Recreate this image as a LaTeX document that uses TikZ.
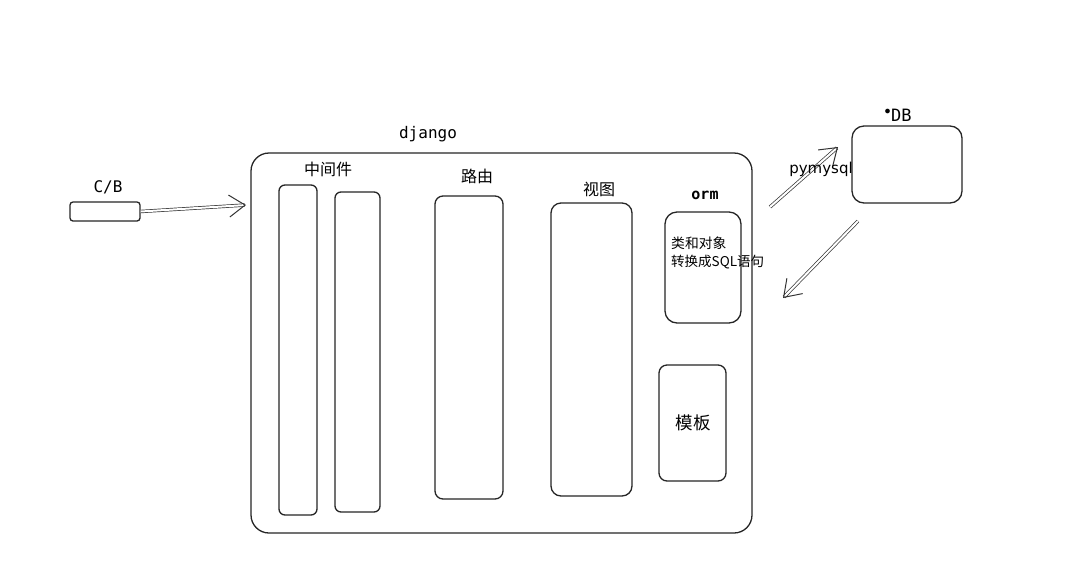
\documentclass[tikz,border=0pt]{standalone}
\usepackage{fontspec}
\setmainfont{Noto Sans CJK SC}
\newfontfamily\cjk{Noto Sans CJK SC}
\newfontfamily\monof{DejaVu Sans Mono}
\newfontfamily\sansf{DejaVu Sans}
\usetikzlibrary{arrows.meta}
\begin{document}
\begin{tikzpicture}[x=1pt,y=-1pt,
  box/.style={draw=black!85,line width=1.3pt,inner sep=0pt},
  lbl/.style={inner sep=0pt,font=\cjk\fontsize{16}{18}\selectfont},
  mono/.style={inner sep=0pt,font=\monof\fontsize{16}{18}\selectfont},
  arr/.style={draw=black!80,double=white,double distance=2pt,line width=0.7pt,
    -{Straight Barb[length=16pt,width=22pt,line width=1pt]}}]
\useasboundingbox (0,0) rectangle (1073,582);
\fill[white] (0,0) rectangle (1073,582);
% client
\node[box,rounded corners=3pt,minimum width=70pt,minimum height=19pt] (cb) at (105,211.5) {};
\node[mono] (cbl) at (108,187) {C/B};
% django
\node[box,rounded corners=18pt,minimum width=501pt,minimum height=380pt] (dj) at (501.5,343) {};
\node[mono] (djl) at (428,134) {django};
% middleware
\node[lbl] (mwl) at (328,169) {中间件};
\node[box,rounded corners=6pt,minimum width=38pt,minimum height=330pt] (c1) at (298,350) {};
\node[box,rounded corners=6pt,minimum width=45pt,minimum height=320pt] (c2) at (357.5,352) {};
% route
\node[lbl] (rtl) at (477,176) {路由};
\node[box,rounded corners=8pt,minimum width=68pt,minimum height=303pt] (rt) at (469,347.5) {};
% view
\node[lbl] (vwl) at (599,189) {视图};
\node[box,rounded corners=10pt,minimum width=81pt,minimum height=293pt] (vw) at (591.5,349.5) {};
% orm
\node[mono,font=\monof\bfseries\fontsize{15}{18}\selectfont] (orml) at (705,195) {orm};
\node[box,rounded corners=12pt,minimum width=76pt,minimum height=111pt] (orm) at (703,267.5) {};
\node[lbl,anchor=west,font=\cjk\fontsize{13.8}{15}\selectfont] (t1) at (671,243) {类和对象};
\node[lbl,anchor=west,font=\cjk\fontsize{13.5}{15}\selectfont] (t2) at (671,262) {转换成SQL语句};
% template
\node[box,rounded corners=8pt,minimum width=67pt,minimum height=116pt] (tp) at (692.5,423) {};
\node[lbl,font=\cjk\fontsize{17.5}{19}\selectfont] (tpl) at (693,423) {模板};
% DB
\node[box,rounded corners=12pt,minimum width=110pt,minimum height=77pt] (db) at (907,164.5) {};
\node[mono,font=\monof\fontsize{17}{19}\selectfont] (dbl) at (898,115) {$^{\bullet}$DB};
% arrows
\coordinate (cbend) at (246,205);
\draw[arr] (cb.east) -- (cbend);
\coordinate (u1) at (770,207);
\coordinate (u2) at (838,147);
\draw[arr] (u1) -- (u2);
\node[inner sep=0pt,font=\sansf\fontsize{15}{18}\selectfont] (pm) at (821,169) {pymysql};
\coordinate (d1) at (858,221);
\coordinate (d2) at (783,298);
\draw[arr] (d1) -- (d2);
\end{tikzpicture}
\end{document}
